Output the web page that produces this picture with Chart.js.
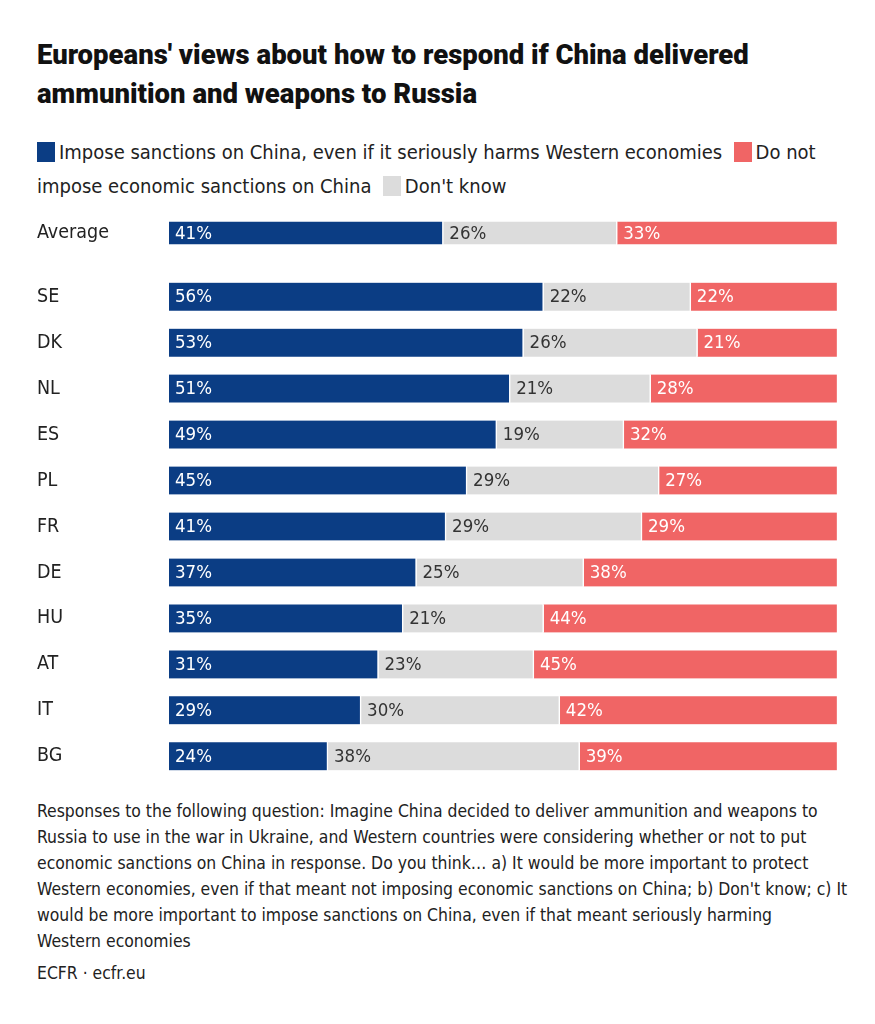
<!DOCTYPE html>
<html>
<head>
<meta charset="utf-8">
<script src="https://cdn.jsdelivr.net/npm/chart.js@4"></script>
<style>
  body { margin: 0; background: #fff; width: 875px; height: 1024px; position: relative; overflow: hidden; font-family: "DejaVu Sans Condensed", "DejaVu Sans", sans-serif; color: #1a1a1a; }
  .title { position: absolute; left: 37px; top: 35px; width: 830px; font-family: Roboto, sans-serif; font-weight: 900; font-size: 27.5px; line-height: 39px; color: #111; }
  .legend { position: absolute; left: 37px; top: 135px; width: 830px; font-size: 20px; line-height: 34px; color: #222; }
  .sw { display: inline-block; width: 18px; height: 20px; vertical-align: -3px; margin-right: 4px; }
  .chart { position: absolute; left: 37px; width: 801px; }
  .note { position: absolute; left: 37px; top: 798px; width: 830px; font-size: 17.4px; line-height: 26px; color: #222; }
  .src { position: absolute; left: 37px; top: 963px; font-size: 17.4px; color: #222; }
</style>
</head>
<body>
<div class="title">Europeans' views about how to respond if China delivered<br>ammunition and weapons to Russia</div>
<div class="legend">
  <span class="sw" style="background:#0b3d84"></span>Impose sanctions on China, even if it seriously harms Western economies&nbsp;
  <span class="sw" style="background:#f06565"></span>Do not<br>impose economic sanctions on China&nbsp;
  <span class="sw" style="background:#dcdcdc"></span>Don't know
</div>
<div class="chart" style="top:210px;height:46px"><canvas id="avgChart"></canvas></div>
<div class="chart" style="top:262px;height:529px"><canvas id="countryChart"></canvas></div>
<div class="note">Responses to the following question: Imagine China decided to deliver ammunition and weapons to<br>Russia to use in the war in Ukraine, and Western countries were considering whether or not to put<br>economic sanctions on China in response. Do you think… a) It would be more important to protect<br>Western economies, even if that meant not imposing economic sanctions on China; b) Don't know; c) It<br>would be more important to impose sanctions on China, even if that meant seriously harming<br>Western economies</div>
<div class="src">ECFR · ecfr.eu</div>
<script>
const avgLabel = ["Average"];
const avgImpose = [41];
const avgDontKnow = [26];
const avgNotImpose = [33];

const countries = ["SE", "DK", "NL", "ES", "PL", "FR", "DE", "HU", "AT", "IT", "BG"];
const impose = [56, 53, 51, 49, 45, 41, 37, 35, 31, 29, 24];
const dontKnow = [22, 26, 21, 19, 29, 29, 25, 21, 23, 30, 38];
const notImpose = [22, 21, 28, 32, 27, 29, 38, 44, 45, 42, 39];

const BLUE = "#0b3d84";
const GREY = "#dcdcdc";
const RED = "#f06565";
const FONT = "DejaVu Sans Condensed";

// bars are shares of each row's total, labels keep the raw percentages
const share = (vals, a, b, c) => vals.map((v, i) => (v / (a[i] + b[i] + c[i])) * 100);

const segLabels = {
  id: "segLabels",
  afterDatasetsDraw(chart) {
    const ctx = chart.ctx;
    ctx.save();
    ctx.font = "18.5px '" + FONT + "'";
    ctx.textBaseline = "middle";
    ctx.textAlign = "left";
    chart.data.datasets.forEach((ds, di) => {
      const meta = chart.getDatasetMeta(di);
      meta.data.forEach((bar, i) => {
        ctx.fillStyle = ds.labelColor;
        ctx.fillText(ds.raw[i] + "%", bar.base + 6, bar.y + 1);
      });
    });
    ctx.restore();
  },
};

function makeChart(id, labels, a, b, c) {
  return new Chart(document.getElementById(id), {
    type: "bar",
    data: {
      labels: labels,
      datasets: [
        { label: "Impose sanctions on China, even if it seriously harms Western economies", data: share(a, a, b, c), raw: a, backgroundColor: BLUE, labelColor: "#ffffff" },
        { label: "Don't know", data: share(b, a, b, c), raw: b, backgroundColor: GREY, labelColor: "#333333" },
        { label: "Do not impose economic sanctions on China", data: share(c, a, b, c), raw: c, backgroundColor: RED, labelColor: "#ffffff" },
      ].map((d) => ({ ...d, borderColor: "#ffffff", borderWidth: { top: 0, bottom: 0, left: 0, right: 1.5 }, borderSkipped: false, barThickness: 28 })),
    },
    options: {
      indexAxis: "y",
      responsive: true,
      maintainAspectRatio: false,
      animation: false,
      layout: { padding: 0 },
      plugins: { legend: { display: false }, tooltip: { enabled: false } },
      scales: {
        x: { stacked: true, min: 0, max: 100, display: false },
        y: {
          stacked: true,
          grid: { display: false, drawTicks: false },
          border: { display: false },
          afterFit: (scale) => { scale.width = 132; },
          ticks: { crossAlign: "far", color: "#222", padding: 0, font: { family: FONT, size: 19.5 } },
        },
      },
    },
    plugins: [segLabels],
  });
}

makeChart("avgChart", avgLabel, avgImpose, avgDontKnow, avgNotImpose);
makeChart("countryChart", countries, impose, dontKnow, notImpose);
</script>
</body>
</html>
